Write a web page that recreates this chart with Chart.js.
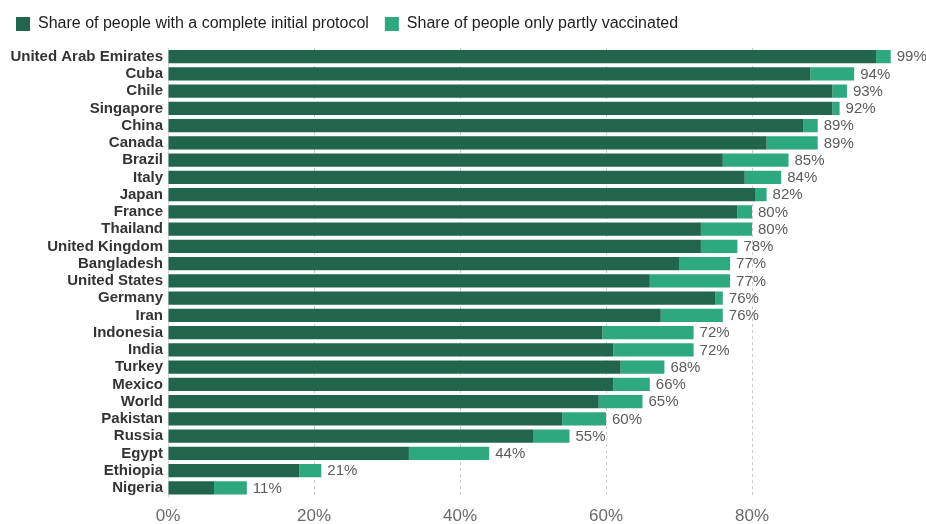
<!DOCTYPE html>
<html><head><meta charset="utf-8">
<script src="https://cdn.jsdelivr.net/npm/chart.js@4.4.1/dist/chart.umd.min.js"></script>
<style>html,body{margin:0;padding:0;background:#fff;}#wrap{width:926px;height:524px;}</style>
</head><body><div id="wrap"><canvas id="c" width="926" height="524"></canvas></div>
<script>
const countries = ["United Arab Emirates","Cuba","Chile","Singapore","China","Canada","Brazil","Italy","Japan","France","Thailand","United Kingdom","Bangladesh","United States","Germany","Iran","Indonesia","India","Turkey","Mexico","World","Pakistan","Russia","Egypt","Ethiopia","Nigeria"];
const complete = [97,88,91,91,87,82,76,79,80.5,78,73,73,70,66,75,67.5,59.5,61,62,61,59,54,50,33,18,6.3];
const partial  = [2,6,2,1,2,7,9,5,1.5,2,7,5,7,11,1,8.5,12.5,11,6,5,6,6,5,11,3,4.5];
const totalLabels = ["99%","94%","93%","92%","89%","89%","85%","84%","82%","80%","80%","78%","77%","77%","76%","76%","72%","72%","68%","66%","65%","60%","55%","44%","21%","11%"];
const xTicks = [0,20,40,60,80];
const seriesNames = ["Share of people with a complete initial protocol","Share of people only partly vaccinated"];

const FONT = '"Liberation Sans", Arial, sans-serif';

const labelPlugin = {
  id:'totals',
  afterDatasetsDraw(chart){
    const ctx = chart.ctx;
    const meta = chart.getDatasetMeta(1);
    ctx.save();
    ctx.font = '15px ' + FONT;
    ctx.fillStyle = '#5c5c5c';
    ctx.textBaseline = 'middle';
    ctx.textAlign = 'left';
    meta.data.forEach((bar,i)=>{
      ctx.fillText(totalLabels[i], bar.x + 6, bar.y + 0.5);
    });
    ctx.restore();
  }
};

const legendSpace = {
  id:'legendSpace',
  beforeUpdate(chart){
    const lg = chart.legend;
    if (lg && !lg._patched) {
      const orig = lg.fit;
      lg.fit = function(){ orig.call(this); this.height += 6; };
      lg._patched = true;
    }
  }
};

new Chart(document.getElementById('c'), {
  type:'bar',
  data:{
    labels: countries,
    datasets:[
      {label:seriesNames[0], data:complete, backgroundColor:'#21664c', borderWidth:0},
      {label:seriesNames[1], data:partial, backgroundColor:'#2ea87e', borderWidth:0}
    ]
  },
  options:{
    indexAxis:'y',
    responsive:false,
    animation:false,
    devicePixelRatio:1,
    layout:{padding:{left:0,right:28,top:0,bottom:0}},
    datasets:{bar:{categoryPercentage:1, barPercentage:0.78}},
    plugins:{
      tooltip:{enabled:false},
      legend:{
        position:'top', align:'start',
        labels:{boxWidth:14, boxHeight:14, padding:16, color:'#1e1e1e',
          font:{family:FONT, size:16}}
      }
    },
    scales:{
      x:{
        stacked:true, min:0, max:100,
        border:{display:false, dash:[3,3]},
        grid:{drawTicks:false, color:(c)=> (c.tick && c.tick.value>0 && c.tick.value<100) ? '#cccccc' : 'rgba(0,0,0,0)', lineWidth:1},
        afterBuildTicks:(s)=>{ s.ticks = xTicks.map(v=>({value:v})); },
        afterFit:(s)=>{ s.height = 27.5; },
        ticks:{padding:10, color:'#6a6a6a', font:{family:FONT, size:17},
          callback:(v)=> v + '%'}
      },
      y:{
        stacked:true,
        border:{display:true, color:'#dcdcdc'},
        grid:{display:false, drawTicks:false},
        afterFit:(s)=>{ s.width = 168; },
        ticks:{padding:5, color:'#333', font:{family:FONT, size:15, weight:'bold'}, autoSkip:false}
      }
    }
  },
  plugins:[labelPlugin, legendSpace]
});
</script></body></html>
